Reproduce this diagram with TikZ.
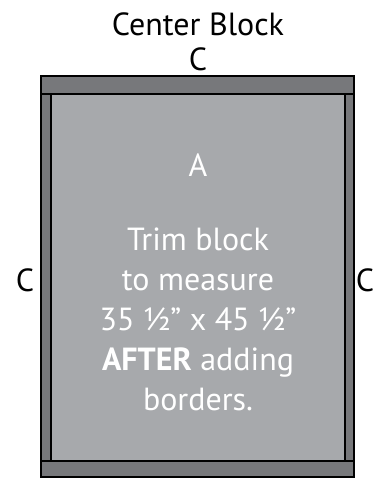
\documentclass[tikz,border=0pt]{standalone}
\usepackage{fontspec}
\setmainfont{PT Sans}
\usetikzlibrary{positioning}

\definecolor{stripgray}{HTML}{77787B}
\definecolor{blockgray}{HTML}{A7A9AC}

\tikzset{
  strip/.style={draw=black, line width=1.4pt, fill=stripgray},
  centre/.style={draw=black, line width=1.4pt, fill=blockgray},
  capt/.style={font=\fontsize{32}{36}\selectfont, inner sep=0pt, anchor=base},
  inner/.style={font=\fontsize{32}{36}\selectfont, text=white, inner sep=0pt, anchor=base}
}

\begin{document}
\begin{tikzpicture}[x=1pt, y=-1pt]
      % Page size of the reference
      \useasboundingbox (0,0) rectangle (383,478);

      % Borders and centre
      \draw[strip]  (41,76)   rectangle (354,94);   % top C
      \draw[strip]  (41,461)  rectangle (354,477);  % bottom
      \draw[strip]  (41,94)   rectangle (51,461);   % left C
      \draw[strip]  (345,94)  rectangle (354,461);  % right C
      \draw[centre] (51,94)   rectangle (345,461);  % A

      % Titles
      \node[capt] (title)  at (198,36)  {Center Block};
      \node[capt] (ctop)   at (198,71)  {C};
      \node[capt] (cleft)  at (25,291)  {C};
      \node[capt] (cright) at (365,291) {C};

      % Text inside the block
      \node[inner] (a)     at (198,177) {A};
      \node[inner] (line1) at (198,250) {Trim block};
      \node[inner] (line2) at (198,290) {to measure};
      \node[inner] (line3) at (198,330) {35 ½” x 45 ½”};
      \node[inner] (line4) at (198,370) {\textbf{AFTER} adding};
      \node[inner] (line5) at (198,410) {borders.};
\end{tikzpicture}
\end{document}
